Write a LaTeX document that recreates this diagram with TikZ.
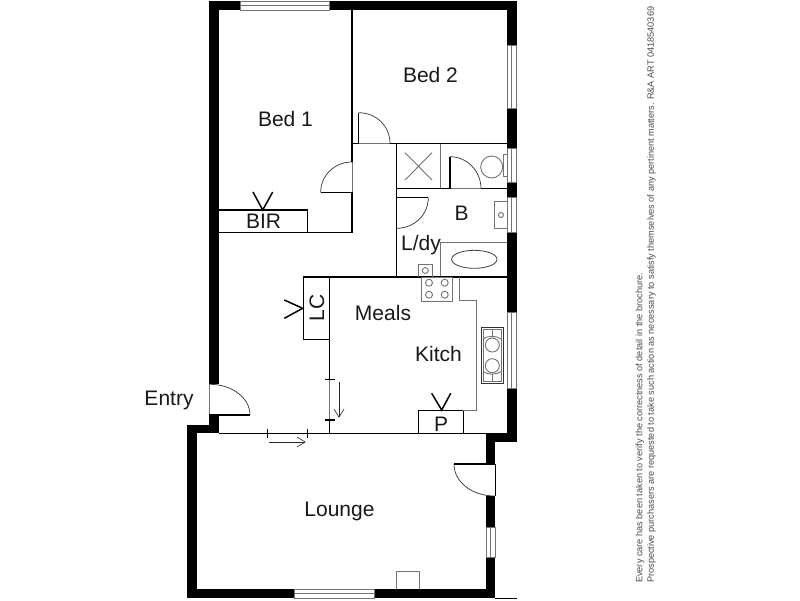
\documentclass[tikz,border=0pt]{standalone}
\usepackage{fontspec}
\setmainfont{Liberation Sans}
\usetikzlibrary{arrows.meta}
\definecolor{wallc}{gray}{0.0}
\definecolor{fixt}{gray}{0.45}
\definecolor{notec}{gray}{0.3}
\tikzset{
  wall/.style={fill=wallc,draw=none},
  part/.style={draw=black,line width=1.5pt},
  thin part/.style={draw=black,line width=0.8pt},
  gap/.style={draw=fixt,line width=0.8pt},
  fixture/.style={draw=fixt,line width=0.9pt},
  swing/.style={draw=black!80,line width=0.7pt},
  leaf/.style={draw=black,line width=1.5pt},
  win/.style={draw=fixt,line width=0.7pt},
  room/.style={font=\fontsize{21}{23}\selectfont,text=black!90,inner sep=0pt},
  note/.style={font=\fontsize{9.17}{10}\selectfont,text=notec,rotate=90,anchor=west,inner sep=0pt},
  vee/.style={draw=black,line width=1.5pt},
  slide/.style={draw=black!85,line width=0.6pt,-{Straight Barb[length=8pt,width=10pt]}}
}
\begin{document}
\begin{tikzpicture}[x=1pt,y=-1pt]
\useasboundingbox (0,0) rectangle (800,600);
\fill[white] (0,0) rectangle (800,600);
% outer walls
\fill[wall] (209.3,1) rectangle (240.7,10);
\fill[wall] (329.3,1) rectangle (516.7,10);
\fill[wall] (209.3,1) rectangle (218.7,384);
\fill[wall] (209.3,415) rectangle (218.7,433.3);
\fill[wall] (187,425) rectangle (218.7,433.3);
\fill[wall] (187,425) rectangle (196.7,598);
\fill[wall] (187,589.3) rectangle (294.3,598);
\fill[wall] (374,589.3) rectangle (495,598);
\fill[wall] (507,1) rectangle (516.7,45);
\fill[wall] (507,108) rectangle (516.7,148);
\fill[wall] (507,182.5) rectangle (516.7,197.7);
\fill[wall] (507,232.7) rectangle (516.7,312.7);
\fill[wall] (507,388) rectangle (516.7,441.7);
\fill[wall] (486,433.3) rectangle (516.7,441.7);
\fill[wall] (486,433.3) rectangle (495,464);
\fill[wall] (486,496) rectangle (495,527);
\fill[wall] (486,557.7) rectangle (495,598);
% windows
\draw[win] (240.7,1) rectangle (329.3,10) (240.7,5) -- (329.3,5);
\draw[win] (294.3,589.3) rectangle (374,598) (294.3,593.6) -- (374,593.6);
\draw[win] (507,45) rectangle (516.7,108) (511.8,45) -- (511.8,108);
\draw[win] (507,148) rectangle (516.7,182.5) (511.8,148) -- (511.8,182.5);
\draw[win] (507,197.7) rectangle (516.7,232.7) (511.8,197.7) -- (511.8,232.7);
\draw[win] (507,312.7) rectangle (516.7,388) (511.8,312.7) -- (511.8,388);
\draw[win] (486,527) rectangle (495,557.7) (490.5,527) -- (490.5,557.7);
\draw[thin part] (495,464) -- (495,496);
\draw[gap] (209.3,384) -- (209.3,415);
\draw[thin part] (495,598) -- (517,598);
% partitions
\draw[part] (352,10) -- (352,143.5) -- (358.7,143.5);
\draw[gap] (358.7,143.5) -- (390,143.5);
\draw[part] (390,143.5) -- (507,143.5);
\draw[gap] (352,162) -- (352,192.3);
\draw[part] (352,143.5) -- (352,162);
\draw[part] (352,192.3) -- (352,232.5) -- (218.7,232.5);
\draw[part] (307.7,232.5) -- (307.7,210) -- (218.7,210);
\draw[part] (396.7,143.5) -- (396.7,277);
\draw[fixture] (440.7,143.5) -- (440.7,188.7);
\draw[part] (396.7,188.7) -- (450,188.7);
\draw[gap] (450,188.7) -- (481,188.7);
\draw[part] (481,188.7) -- (507,188.7);
\draw[fixture] (405,152.7) -- (432,180) (432,152.7) -- (405,180);
\draw[fixture] (440.7,242.3) -- (507,242.3) (440.7,242.3) -- (440.7,277);
\draw[part] (303.3,277) -- (507,277);
\draw[part] (303.3,277) rectangle (329.7,339.7);
\draw[part] (329.7,339.7) -- (329.7,379.7);
\draw[part] (324.7,379.7) -- (335,379.7);
\draw[gap] (329.7,379.7) -- (329.7,420);
\draw[part] (324.7,420) -- (335,420);
\draw[part] (329.7,420) -- (329.7,433.3);
\draw[part] (218.7,433.3) -- (267.7,433.3);
\draw[thin part] (267.7,433.3) -- (307.7,433.3);
\draw[part] (307.7,433.3) -- (486,433.3);
\draw[part] (267.7,429) -- (267.7,438) (307.7,429) -- (307.7,438);
\draw[part] (418.7,433.3) -- (418.7,410.7) -- (463.3,410.7) -- (463.3,433.3);
% doors
\draw[leaf] (358.7,143.5) -- (358.7,112.7);
\draw[swing] (358.7,112.7) .. controls (376,112.7) and (390,126) .. (390,143.5);
\draw[leaf] (352,192.3) -- (320.7,192.3);
\draw[swing] (320.7,192.3) .. controls (320.7,175) and (335,162) .. (352,162);
\draw[leaf] (450,188.7) -- (450,156.7);
\draw[swing] (450,156.7) .. controls (467,156.7) and (481,171) .. (481,188.7);
\draw[leaf] (396.7,197.7) -- (428.3,197.7);
\draw[swing] (428.3,197.7) .. controls (428.3,215) and (414,228.3) .. (396.7,228.3);
\draw[leaf] (209.3,415) -- (250,415);
\draw[swing] (210,384.3) .. controls (232,384.3) and (250,398) .. (250,415);
\draw[leaf] (495,464) -- (454,464);
\draw[swing] (454,464) .. controls (454,482) and (472,496) .. (495,496);
% fixtures
\draw[fixture] (491.7,167) circle[radius=11];
\draw[fixture] (503.3,154) rectangle (507,176.7);
\draw[fixture] (494.3,201.7) rectangle (507,228.3);
\draw[fixture] (501,215) circle[radius=2.5];
\draw[draw=black!75,line width=0.8pt] (474.3,259.3) ellipse[x radius=22.7,y radius=9];
\draw[fixture] (418.3,277) -- (418.3,264) -- (432.3,264) -- (432.3,277);
\draw[fixture] (425.3,270.5) circle[radius=3];
\draw[fixture] (421,277) rectangle (452.3,301);
\foreach \cx in {429,444.7}\foreach \cy in {282.7,294.7}{\draw[fixture] (\cx,\cy) circle[radius=3.5];}
\draw[fixture] (459,277) -- (459,300) -- (476.7,300) -- (476.7,410.7) -- (463.3,410.7);
\draw[draw=black!80,line width=0.8pt] (481,327.3) rectangle (503.3,383.3);
\draw[fixture] (483.2,329.5) rectangle (501.1,381.1);
\draw[fixture] (483.2,339) .. controls (487,335.5) and (497,335.5) .. (501.1,339);
\draw[fixture] (483.2,371.5) .. controls (487,375) and (497,375) .. (501.1,371.5);
\draw[fixture] (492.3,345) circle[radius=7] (492.3,365.7) circle[radius=7];
\draw[fixture] (492.3,330) -- (492.3,336.5) (492.3,374) -- (492.3,380.5);
\draw[fixture] (396.7,589.3) -- (396.7,571.7) -- (419,571.7) -- (419,589.3);
% vee marks
\draw[vee] (253,192) -- (262.7,210) -- (272.7,192);
\draw[vee] (431.7,393.3) -- (441.7,410) -- (450.7,393.3);
\draw[vee] (284.3,300) -- (302.7,308.3) -- (284.3,318.3);
% slide arrows
\draw[slide] (339,382.3) -- (339,417.7);
\draw[slide] (269.3,442) -- (305.7,442);
% labels
\node[room] (bedone) at (285.5,119) {Bed 1};
\node[room] (bedtwo) at (430.5,75) {Bed 2};
\node[room] (bir) at (263.5,221.5) {BIR};
\node[room] (bath) at (461.5,213) {B};
\node[room] (ldy) at (421,245) {L/dy};
\node[room,rotate=90] (lc) at (317,308) {LC};
\node[room] (meals) at (383,313) {Meals};
\node[room] (kitch) at (438.5,354) {Kitch};
\node[room] (pantry) at (441,424) {P};
\node[room] (entry) at (169,400) {Entry};
\node[room] (lounge) at (339.5,511) {Lounge};
\node[note] (noteone) at (640,583) {Every care has been taken to verify the correctness of detail in the brochure.};
\node[note] (notetwo) at (651.5,583) {Prospective purchasers are requested to take such action as necessary to satisfy themselves of any pertinent matters. R\&A ART 0418540369};
\end{tikzpicture}
\end{document}
